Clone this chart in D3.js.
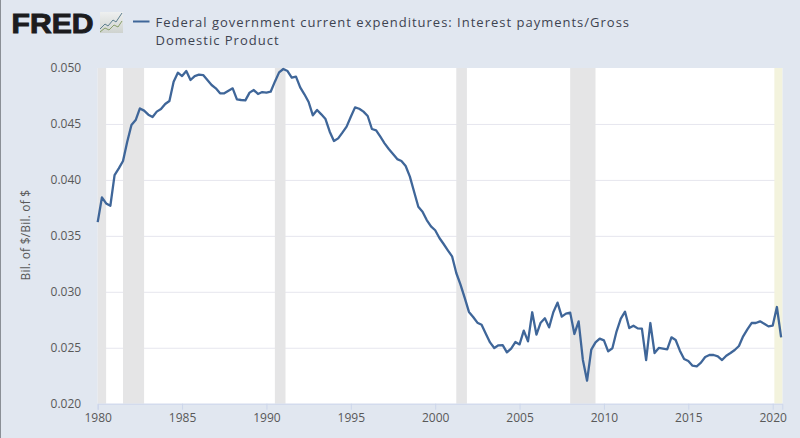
<!DOCTYPE html>
<html>
<head>
<meta charset="utf-8">
<script src="https://cdn.jsdelivr.net/npm/d3@7"></script>
<style>
  html, body { margin: 0; padding: 0; background: #e1e7f0; overflow: hidden; }
  text { font-family: "Open Sans", sans-serif; }
</style>
</head>
<body>
<div id="chart"></div>
<script>
const titleLines = ['Federal government current expenditures: Interest payments/Gross', 'Domestic Product'];
const yLabel = 'Bil. of $/Bil. of $';
const xTicks = [1980, 1985, 1990, 1995, 2000, 2005, 2010, 2015, 2020];
const yTicks = [0.020, 0.025, 0.030, 0.035, 0.040, 0.045, 0.050];
const startYear = 1980;

// quarterly, in thousandths, 1980 Q1 .. 2020 Q3
const ratio = [
  36.23, 38.44, 37.90, 37.69, 40.43, 41.03, 41.69, 43.41, 44.90, 45.35, 46.39, 46.19,
  45.83, 45.62, 46.10, 46.33, 46.78, 47.05, 48.78, 49.58, 49.28, 49.73, 48.93, 49.28,
  49.40, 49.37, 48.93, 48.48, 48.18, 47.74, 47.74, 47.97, 48.18, 47.20, 47.14, 47.11,
  47.80, 48.03, 47.68, 47.85, 47.80, 47.88, 48.78, 49.61, 49.91, 49.73, 49.14, 49.23,
  48.27, 47.65, 46.96, 45.77, 46.25, 45.86, 45.44, 44.31, 43.47, 43.71, 44.22, 44.76,
  45.65, 46.48, 46.36, 46.10, 45.71, 44.55, 44.43, 43.86, 43.27, 42.76, 42.31, 41.86,
  41.69, 41.24, 40.29, 38.94, 37.60, 37.16, 36.41, 35.85, 35.50, 34.81, 34.27, 33.71,
  33.17, 31.68, 30.64, 29.45, 28.20, 27.75, 27.24, 27.06, 26.26, 25.48, 24.98, 25.22,
  25.24, 24.59, 24.92, 25.51, 25.30, 26.53, 25.57, 28.17, 26.17, 27.24, 27.63, 26.82,
  28.17, 29.03, 27.78, 28.05, 28.14, 26.23, 27.36, 23.93, 22.06, 24.83, 25.48, 25.81,
  25.66, 24.68, 24.95, 26.47, 27.60, 28.22, 26.76, 26.97, 26.73, 26.71, 23.90, 27.21,
  24.53, 24.98, 24.92, 24.86, 25.93, 25.69, 24.74, 23.99, 23.81, 23.40, 23.34, 23.67,
  24.17, 24.35, 24.35, 24.23, 23.90, 24.29, 24.53, 24.80, 25.16, 26.02, 26.65, 27.21,
  27.21, 27.36, 27.15, 26.91, 26.97, 28.64, 25.93
];

const recessionStart = [1980.0, 1981.5, 1990.5, 2001.25, 2008.0, 2020.1];
const recessionEnd = [1980.5, 1982.75, 1991.13, 2001.88, 2009.5, 2020.57];

const width = 800, height = 438;
const plotLeft = 97.7, plotRight = 782.3, plotTop = 68, plotBottom = 403.7;

const x = d3.scaleLinear().domain([1980, 2020.57]).range([plotLeft, plotRight]);
const y = d3.scaleLinear().domain([0.020, 0.050]).range([plotBottom, plotTop]);

const svg = d3.select('#chart').append('svg')
  .attr('width', width)
  .attr('height', height)
  .style('display', 'block');

svg.append('rect').attr('width', width).attr('height', height).attr('fill', '#e1e7f0');
svg.append('rect').attr('width', 1).attr('height', height).attr('fill', '#8a8f96');

// plot area
svg.append('rect')
  .attr('x', plotLeft).attr('y', plotTop)
  .attr('width', plotRight - plotLeft).attr('height', plotBottom - plotTop)
  .attr('fill', '#ffffff');

// grid lines go under the recession bands
const grid = svg.append('g')
  .attr('transform', `translate(${plotLeft},0)`)
  .call(d3.axisLeft(y).tickValues(yTicks.filter(d => d > 0.02 && d < 0.05)).tickSize(-(plotRight - plotLeft)).tickFormat(''));
grid.select('.domain').remove();
grid.selectAll('line').attr('stroke', '#e6e6ee').attr('stroke-width', 1);

svg.append('g').selectAll('rect')
  .data(recessionStart)
  .join('rect')
  .attr('x', d => x(d))
  .attr('y', plotTop)
  .attr('width', (d, i) => x(recessionEnd[i]) - x(d))
  .attr('height', plotBottom - plotTop)
  .attr('fill', (d, i) => i === recessionStart.length - 1 ? '#f3f3dd' : '#e5e5e6');

// y axis labels
const yAxis = svg.append('g')
  .attr('transform', `translate(${plotLeft},0)`)
  .call(d3.axisLeft(y).tickValues(yTicks).tickSize(0).tickPadding(16.5).tickFormat(d3.format('.3f')));
yAxis.select('.domain').remove();
yAxis.selectAll('text')
  .attr('fill', '#595959')
  .style('font-size', '12px');

// x axis
const xAxis = svg.append('g')
  .attr('transform', `translate(0,${plotBottom})`)
  .call(d3.axisBottom(x).tickValues(xTicks).tickSize(6).tickPadding(4).tickFormat(d3.format('d')));
xAxis.select('.domain').attr('stroke', '#ccd6eb').attr('stroke-width', 1);
xAxis.selectAll('line').attr('stroke', '#ccd6eb');
xAxis.selectAll('text')
  .attr('fill', '#595959')
  .style('font-size', '12px');

svg.append('text')
  .attr('transform', 'translate(30,235) rotate(-90)')
  .attr('text-anchor', 'middle')
  .attr('fill', '#595959')
  .style('font-size', '12px')
  .style('letter-spacing', '0.2px')
  .text(yLabel);

// series
const line = d3.line()
  .x((d, i) => x(startYear + i / 4))
  .y(d => y(d / 1000));

svg.append('path')
  .datum(ratio)
  .attr('fill', 'none')
  .attr('stroke', '#3f6699')
  .attr('stroke-width', 2.3)
  .attr('stroke-linejoin', 'round')
  .attr('d', line);

// legend
svg.append('line')
  .attr('x1', 133).attr('x2', 149.5)
  .attr('y1', 21.5).attr('y2', 21.5)
  .attr('stroke', '#3f6699').attr('stroke-width', 2);

svg.append('g').selectAll('text')
  .data(titleLines)
  .join('text')
  .attr('x', 155.5)
  .attr('y', (d, i) => 27 + i * 18)
  .attr('fill', '#3d4350')
  .style('font-size', '13px')
  .style('letter-spacing', '1px')
  .text(d => d);

// logo
svg.append('text')
  .attr('x', 11.5)
  .attr('y', 32.5)
  .attr('fill', '#1c1c1e')
  .attr('stroke', '#1c1c1e')
  .attr('stroke-width', 1)
  .attr('textLength', 82)
  .attr('lengthAdjust', 'spacingAndGlyphs')
  .style('font-family', '"Liberation Sans", sans-serif')
  .style('font-weight', 'bold')
  .style('font-size', '28px')
  .text('FRED');

const logoDefs = svg.append('defs').append('linearGradient')
  .attr('id', 'logoBg').attr('x1', 0).attr('y1', 0).attr('x2', 0).attr('y2', 1);
logoDefs.append('stop').attr('offset', '0%').attr('stop-color', '#eef0f0');
logoDefs.append('stop').attr('offset', '100%').attr('stop-color', '#cfd3cf');

const logoIcon = svg.append('g').attr('transform', 'translate(100,12)');
logoIcon.append('rect').attr('width', 23).attr('height', 21).attr('fill', 'url(#logoBg)');
logoIcon.append('path').attr('d', 'M0 17L5 12L8 14L13 8L16 10L22 1').attr('fill', 'none').attr('stroke', '#5d7f8f').attr('stroke-width', 1);
logoIcon.append('path').attr('d', 'M0 20L5 16L9 18L14 13L18 15L22 9').attr('fill', 'none').attr('stroke', '#8aa06a').attr('stroke-width', 1);
</script>
</body>
</html>
